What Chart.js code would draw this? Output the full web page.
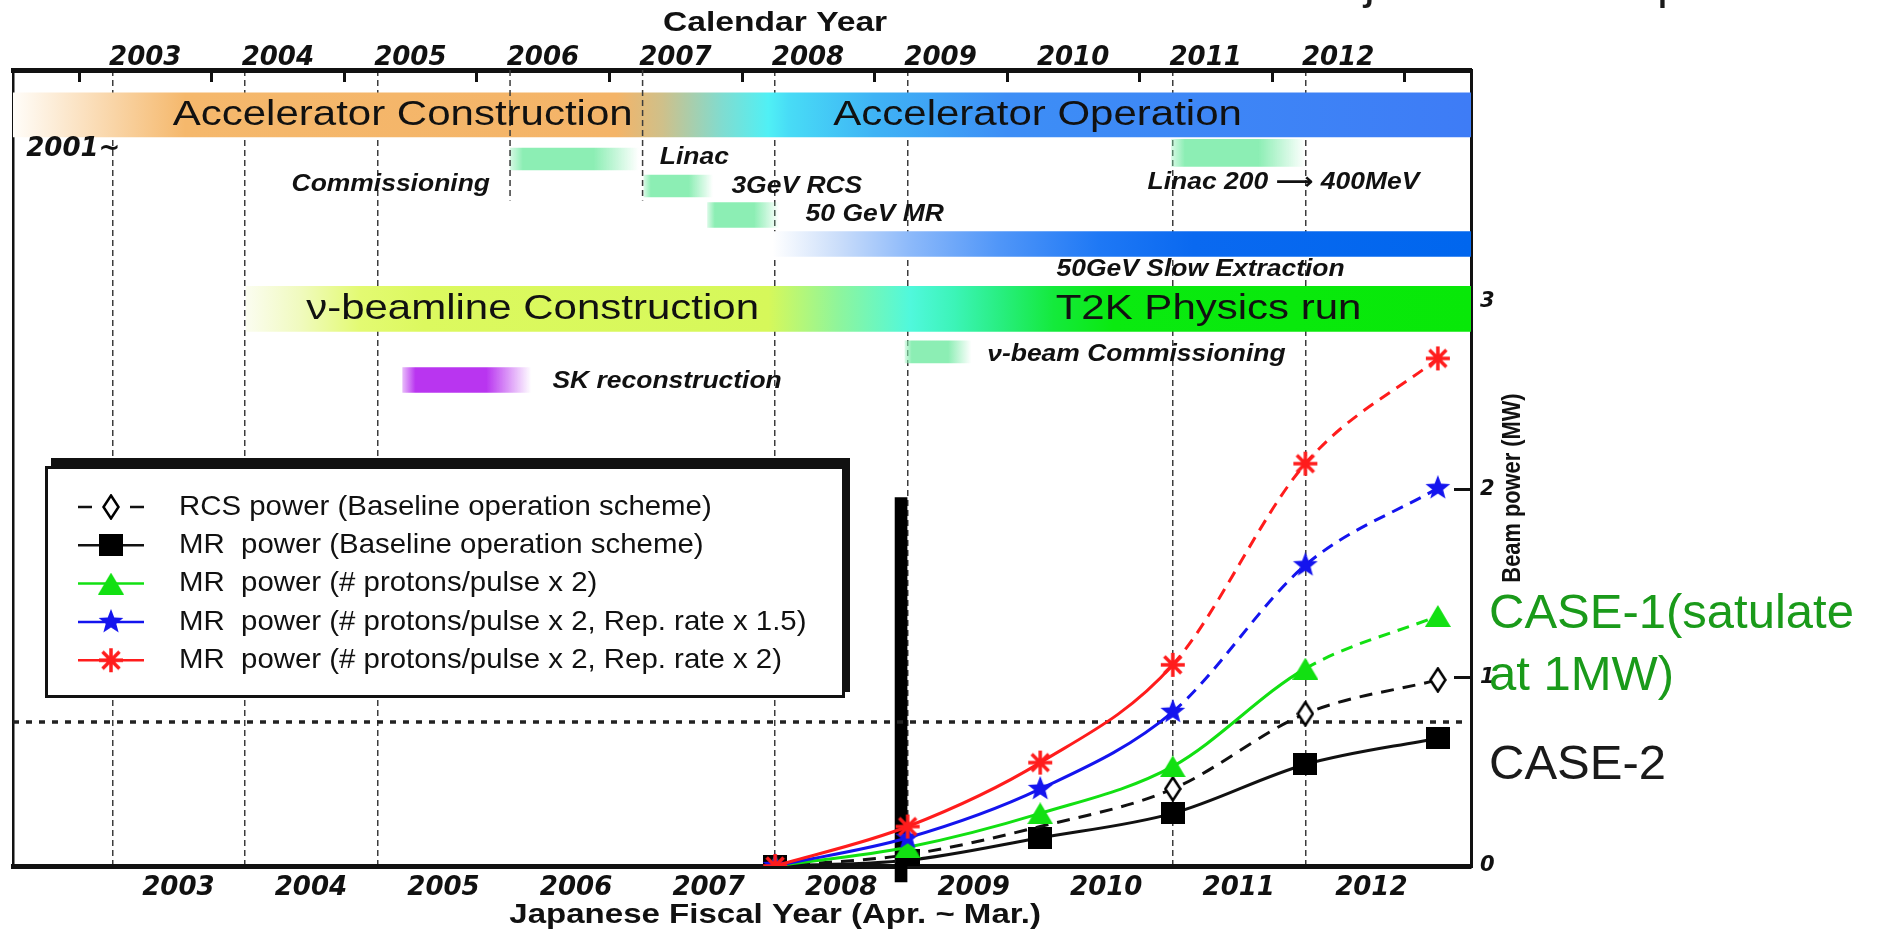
<!DOCTYPE html>
<html>
<head>
<meta charset="utf-8">
<script src="https://cdn.jsdelivr.net/npm/chart.js@4.4.0/dist/chart.umd.min.js"></script>
<style>
  html, body { margin: 0; background: #fff; }
  #wrap { width: 1877px; height: 929px; position: relative; }
</style>
</head>
<body>
<div id="wrap"><canvas id="plan"></canvas></div>
<script>
// ---- data ----
const fyEnds = [2008.25, 2009.25, 2010.25, 2011.25, 2012.25, 2013.25];   // end of JFY2007 .. JFY2012
const rcsBaseline = [0, 0.06, 0.21, 0.41, 0.81, 0.99];
const mrBaseline  = [0, 0.03, 0.15, 0.28, 0.54, 0.68];
const mrPpp2      = [0, 0.10, 0.28, 0.53, 1.05, 1.33];
const mrPpp2Rep15 = [0, 0.15, 0.41, 0.82, 1.60, 2.01];
const mrPpp2Rep2  = [0, 0.21, 0.55, 1.07, 2.14, 2.70];
const seriesLabels = [
  'RCS power (Baseline operation scheme)',
  'MR  power (Baseline operation scheme)',
  'MR  power (# protons/pulse x 2)',
  'MR  power (# protons/pulse x 2, Rep. rate x 1.5)',
  'MR  power (# protons/pulse x 2, Rep. rate x 2)'
];
const refLevel = 0.766;            // dotted line (MW)
const refSpan = [2002.5, 2013.45];
const cutYear = 2009.2;            // thick black marker line
const cutSpan = [-0.085, 1.96];

const calendarYears = [2003, 2004, 2005, 2006, 2007, 2008, 2009, 2010, 2011, 2012, 2013];
const fiscalStarts = [2003.25, 2004.25, 2005.25, 2006.25, 2007.25, 2008.25, 2009.25, 2010.25, 2011.25, 2012.25];
const fiscalNoLine = [2006.25, 2007.25, 2010.25];
const shortFiscalLines = [2006.25, 2007.25];   // only drawn through the top rows
const shortLineLanes = [0, 4.5];
const powerTicks = [0, 1, 2, 3];

// schedule bands (calendar time)
const bandNames = ['Accelerator', 'Linac', 'Linac 200-400MeV', '3GeV RCS', '50 GeV MR',
                   'Slow Extraction', 'Neutrino beamline', 'Beam Commissioning', 'SK reconstruction'];
const bandStart = [2002.5, 2006.25, 2011.24, 2007.26, 2007.74, 2008.23, 2004.26, 2009.23, 2005.44];
const bandEnd   = [2013.5, 2007.22, 2012.25, 2007.78, 2008.28, 2013.5, 2013.5, 2009.73, 2006.41];

// ---- layout / style ----
const bandLane = [1.55, 3.07, 2.86, 4.0, 5.0, 6.0, 8.24, 9.72, 10.69];
const bandThickness = [44, 22, 27, 22, 25, 25, 45, 22, 25];
const soft = (a, b, rgb) => [
  [a, `rgba(${rgb},0.35)`], [a + (b - a) * 0.1, `rgb(${rgb})`],
  [a + (b - a) * 0.65, `rgb(${rgb})`], [b, `rgba(${rgb},0)`]
];
const mint = '140,238,180';
const bandStops = [
  [[2002.5, '#fffdf9'], [2003.8, '#f5b86c'], [2007.05, '#f4b468'], [2007.4, '#cfc08a'], [2007.85, '#80dcd0'],
   [2008.2, '#50f0f5'], [2008.35, '#48dcf6'], [2009.0, '#3fb3f5'], [2010.0, '#3d8ef6'], [2013.5, '#3e7cf6']],
  soft(2006.25, 2007.22, mint),
  soft(2011.24, 2012.25, mint),
  soft(2007.26, 2007.78, mint),
  soft(2007.74, 2008.28, mint),
  [[2008.23, '#ffffff'], [2008.75, '#c8dcfa'], [2009.27, '#8cb9fa'], [2009.94, '#5096f8'],
   [2010.7, '#1e78f5'], [2011.4, '#0a69f0'], [2013.5, '#0066ee']],
  [[2004.26, '#fbfdf0'], [2004.67, '#f0fabe'], [2005.12, '#e3fa72'], [2005.6, '#dcf95f'], [2008.2, '#d6f85a'],
   [2008.73, '#8ef59c'], [2009.27, '#50f8dc'], [2009.6, '#3cf4b8'], [2009.95, '#28ee80'], [2010.35, '#14ea3c'],
   [2010.8, '#0aea10'], [2013.5, '#08e808']],
  soft(2009.23, 2009.73, mint),
  soft(2005.44, 2006.41, '185,53,240')
];

const bandNotes = [
  { text: 'Accelerator Construction', t: 2005.44, lane: 1.55, kind: 'big', align: 'center' },
  { text: 'Accelerator Operation', t: 2010.23, lane: 1.55, kind: 'big', align: 'center' },
  { text: 'ν-beamline Construction', t: 2006.42, lane: 8.24, kind: 'big', align: 'center' },
  { text: 'T2K Physics run', t: 2011.52, lane: 8.24, kind: 'big', align: 'center' },
  { text: '2001~', t: 2002.6, lane: 2.72, kind: 'year', align: 'left' },
  { text: 'Linac', t: 2007.38, lane: 3.03, kind: 'small', align: 'left' },
  { text: 'Commissioning', t: 2005.35, lane: 3.97, kind: 'small', align: 'center' },
  { text: '3GeV RCS', t: 2007.92, lane: 4.03, kind: 'small', align: 'left' },
  { text: '50 GeV MR', t: 2008.48, lane: 5.0, kind: 'small', align: 'left' },
  { text: 'Linac 200 ⟶ 400MeV', t: 2011.06, lane: 3.9, kind: 'small', align: 'left' },
  { text: '50GeV Slow Extraction', t: 2011.46, lane: 6.9, kind: 'small', align: 'center' },
  { text: 'ν-beam Commissioning', t: 2009.85, lane: 9.8, kind: 'small', align: 'left' },
  { text: 'SK reconstruction', t: 2006.57, lane: 10.76, kind: 'small', align: 'left' }
];
const noteFonts = {
  big:   { font: '35px "Liberation Sans", Arial, sans-serif', sx: 1.2 },
  small: { font: 'italic bold 23px "Liberation Sans", "DejaVu Sans", sans-serif', sx: 1.15 },
  year:  { font: 'italic bold 26px "DejaVu Sans", sans-serif', sx: 1.0 }
};

const RED = '#ff1c1c', BLUE = '#1414ee', GREEN = '#12e012', BLACK = '#111';
const yearFont = { family: 'DejaVu Sans', size: 26, weight: 'bold', style: 'italic' };

// ---- point markers ----
const makeMarker = (w, h, paint) => {
  const c = document.createElement('canvas');
  c.width = w; c.height = h;
  paint(c.getContext('2d'), w, h);
  return c;
};
const squareMark = makeMarker(24, 22, (g, w, h) => { g.fillStyle = '#000'; g.fillRect(0, 0, w, h); });
const triMark = makeMarker(26, 22, (g, w, h) => {
  g.fillStyle = GREEN; g.beginPath(); g.moveTo(w / 2, 0); g.lineTo(w, h); g.lineTo(0, h); g.closePath(); g.fill();
});
const starMark = makeMarker(26, 26, (g, w, h) => {
  g.fillStyle = BLUE; g.beginPath();
  for (let k = 0; k < 10; k++) {
    const r = k % 2 ? 5.5 : 13, a = -Math.PI / 2 + k * Math.PI / 5;
    g.lineTo(w / 2 + r * Math.cos(a), h / 2 + r * Math.sin(a));
  }
  g.closePath(); g.fill();
});
const asteriskMark = makeMarker(28, 28, (g, w, h) => {
  g.strokeStyle = RED; g.lineWidth = 3.5; g.beginPath();
  for (let k = 0; k < 4; k++) {
    const a = k * Math.PI / 4;
    g.moveTo(w / 2 - 12 * Math.cos(a), h / 2 - 12 * Math.sin(a));
    g.lineTo(w / 2 + 12 * Math.cos(a), h / 2 + 12 * Math.sin(a));
  }
  g.stroke();
});
const diamondMark = makeMarker(18, 26, (g, w, h) => {
  g.fillStyle = '#fff'; g.strokeStyle = '#000'; g.lineWidth = 2.5; g.beginPath();
  g.moveTo(w / 2, 1.5); g.lineTo(w - 1.5, h / 2); g.lineTo(w / 2, h - 1.5); g.lineTo(1.5, h / 2); g.closePath();
  g.fill(); g.stroke();
});

const series = (label, values, color, marker, dashFrom, markerFrom, dash) => ({
  type: 'line',
  label: label,
  data: fyEnds.map((t, i) => ({ x: t, y: values[i] })),
  borderColor: color,
  borderWidth: 3,
  borderDash: dash || [],
  pointStyle: ctx => ctx.dataIndex >= markerFrom ? marker : false,
  pointRadius: 10,
  cubicInterpolationMode: 'monotone',
  segment: { borderDash: c => c.p0DataIndex >= dashFrom ? [12, 8] : undefined },
  xAxisID: 'x', yAxisID: 'y'
});

const lineSets = [
  series(seriesLabels[4], mrPpp2Rep2, RED, asteriskMark, 3, 0),
  series(seriesLabels[3], mrPpp2Rep15, BLUE, starMark, 3, 0),
  series(seriesLabels[2], mrPpp2, GREEN, triMark, 4, 0),
  series(seriesLabels[0], rcsBaseline, BLACK, diamondMark, 99, 3, [13, 9]),
  series(seriesLabels[1], mrBaseline, BLACK, squareMark, 99, 0)
];
const lineMarkers = [asteriskMark, starMark, triMark, diamondMark, squareMark];
const legendOrder = [3, 4, 2, 1, 0];   // indexes into lineSets

const bandFill = (ctx, i) => {
  const chart = ctx.chart, xs = chart.scales.x;
  if (!chart.chartArea || !xs) return 'rgba(0,0,0,0)';
  const a = bandStart[i], b = bandEnd[i];
  const g = chart.ctx.createLinearGradient(xs.getPixelForValue(a), 0, xs.getPixelForValue(b), 0);
  bandStops[i].forEach(([t, c]) => g.addColorStop(Math.min(1, Math.max(0, (t - a) / (b - a))), c));
  return g;
};

const bandSets = bandNames.map((name, i) => ({
  type: 'bar',
  label: name,
  indexAxis: 'y',
  xAxisID: 'x', yAxisID: 'yBand',
  data: [{ x: [bandStart[i], bandEnd[i]], y: bandLane[i] }],
  barThickness: bandThickness[i],
  grouped: false,
  borderWidth: 0,
  backgroundColor: ctx => bandFill(ctx, i)
}));

const extraSets = [
  { type: 'line', label: 'ref', data: refSpan.map(t => ({ x: t, y: refLevel })),
    borderColor: '#222', borderWidth: 3.5, borderDash: [6, 7], pointRadius: 0, xAxisID: 'x', yAxisID: 'y' },
  { type: 'bar', label: 'cut', indexAxis: 'x', data: [{ x: cutYear, y: cutSpan }],
    barThickness: 12, grouped: false, borderWidth: 0, backgroundColor: '#000', clip: false,
    xAxisID: 'x', yAxisID: 'y' },
  ...shortFiscalLines.map(t => ({
    type: 'line', label: 'fy' + t, data: shortLineLanes.map(l => ({ x: t, y: l })),
    borderColor: '#3c3c3c', borderWidth: 1.5, borderDash: [6, 4], pointRadius: 0, xAxisID: 'x', yAxisID: 'yBand'
  }))
];

// ---- text & legend drawing ----
const stretchText = (ctx, text, x, y, font, align, sx, rot) => {
  ctx.save();
  ctx.font = font; ctx.textAlign = align; ctx.textBaseline = 'middle'; ctx.fillStyle = '#111';
  ctx.translate(x, y);
  if (rot) ctx.rotate(rot);
  ctx.scale(sx, 1);
  ctx.fillText(text, 0, 0);
  ctx.restore();
};

const decor = {
  id: 'decor',
  afterDatasetsDraw(chart) {
    const { ctx, scales } = chart;
    const xs = scales.x, ls = scales.yBand;
    bandNotes.forEach(n => {
      const f = noteFonts[n.kind];
      stretchText(ctx, n.text, xs.getPixelForValue(n.t), ls.getPixelForValue(n.lane), f.font, n.align, f.sx);
    });

    // legend box
    ctx.save();
    ctx.fillStyle = '#fff'; ctx.fillRect(45, 466, 800, 232);
    ctx.strokeStyle = '#111'; ctx.lineWidth = 3; ctx.strokeRect(46.5, 467.5, 797, 229);
    ctx.fillStyle = '#111'; ctx.fillRect(51, 458, 799, 10); ctx.fillRect(842, 458, 8, 234);
    legendOrder.forEach((k, row) => {
      const ds = lineSets[k];
      const y = 507 + row * 38.3;
      ctx.strokeStyle = ds.borderColor; ctx.lineWidth = 2.5; ctx.beginPath();
      if (ds.borderDash.length) { ctx.moveTo(78, y); ctx.lineTo(92, y); ctx.moveTo(130, y); ctx.lineTo(144, y); }
      else { ctx.moveTo(78, y); ctx.lineTo(144, y); }
      ctx.stroke();
      const m = lineMarkers[k];
      ctx.drawImage(m, 111 - m.width / 2, y - m.height / 2);
      stretchText(ctx, ds.label, 179, y, '28px "Liberation Sans", Arial, sans-serif', 'left', 1.05);
    });
    ctx.restore();
  },
  afterDraw(chart) {
    const { ctx, scales, chartArea } = chart;
    const mid = scales.x.getPixelForValue(2008.25);
    stretchText(ctx, 'Calendar Year', mid, 23, 'bold 28px "Liberation Sans", Arial, sans-serif', 'center', 1.2);
    stretchText(ctx, 'Japanese Fiscal Year (Apr. ~ Mar.)', mid, 915, 'bold 28px "Liberation Sans", Arial, sans-serif', 'center', 1.18);
    stretchText(ctx, 'Beam power (MW)', chartArea.right + 42, 488, 'bold 26px "Liberation Sans", Arial, sans-serif',
                'center', 0.84, -Math.PI / 2);

    ctx.save();
    ctx.font = '49px "Liberation Sans", Arial, sans-serif'; ctx.textAlign = 'left'; ctx.textBaseline = 'alphabetic';
    const tx = chartArea.right + 18;
    ctx.fillStyle = '#1a9a1a';
    ctx.fillText('CASE-1(satulate', tx, 628);
    ctx.fillText('at 1MW)', tx, 690);
    ctx.fillStyle = '#1a1a1a';
    ctx.fillText('CASE-2', tx, 779);
    ctx.fillText('j', 1364, -2);
    ctx.fillText('p', 1657, -2);
    ctx.restore();
  }
};

new Chart(document.getElementById('plan'), {
  type: 'line',
  data: { datasets: [...lineSets, ...extraSets, ...bandSets] },
  options: {
    responsive: true,
    maintainAspectRatio: false,
    animation: false,
    events: [],
    layout: { padding: 0 },
    plugins: { legend: { display: false }, tooltip: { enabled: false } },
    scales: {
      x: {
        type: 'linear', position: 'bottom', min: 2002.5, max: 2013.5, offset: false,
        afterBuildTicks: s => { s.ticks = fiscalStarts.map(v => ({ value: v })); },
        afterFit: s => { s.height = 63; },
        ticks: { autoSkip: false, maxRotation: 0, labelOffset: 66, padding: 7, color: '#111', font: yearFont,
                 callback: v => String(Math.floor(v)) },
        grid: { offset: false, drawTicks: false, lineWidth: 1.5,
                color: c => (c.tick && fiscalNoLine.includes(c.tick.value)) ? 'rgba(0,0,0,0)' : '#3c3c3c' },
        border: { color: '#111', width: 5, dash: [6, 4] }
      },
      xTop: {
        type: 'linear', position: 'top', min: 2002.5, max: 2013.5, offset: false,
        afterBuildTicks: s => { s.ticks = calendarYears.map(v => ({ value: v })); },
        afterFit: s => { s.height = 70; },
        ticks: { autoSkip: false, maxRotation: 0, labelOffset: 66, padding: 8, color: '#111', font: yearFont,
                 callback: v => v < 2013 ? String(v) : '' },
        grid: { offset: false, drawOnChartArea: false, tickLength: -12, tickWidth: 3, tickColor: '#111' },
        border: { color: '#111', width: 5 }
      },
      y: {
        type: 'linear', position: 'right', min: 0, max: 4.234,
        afterBuildTicks: s => { s.ticks = powerTicks.map(v => ({ value: v })); },
        afterFit: s => { s.width = 406; },
        ticks: { padding: 26, color: '#111', font: { family: 'DejaVu Sans', size: 21, weight: 'bold', style: 'italic' } },
        grid: { offset: false, drawOnChartArea: false, tickLength: -17, tickWidth: 3, tickColor: '#111' },
        border: { color: '#111', width: 3 }
      },
      yBand: {
        type: 'linear', position: 'left', reverse: true, min: 0, max: 27.45, offset: false,
        afterFit: s => { s.width = 12; },
        ticks: { display: false },
        grid: { display: false, offset: false },
        border: { color: '#111', width: 2.5 }
      }
    }
  },
  plugins: [decor]
});
</script>
</body>
</html>
